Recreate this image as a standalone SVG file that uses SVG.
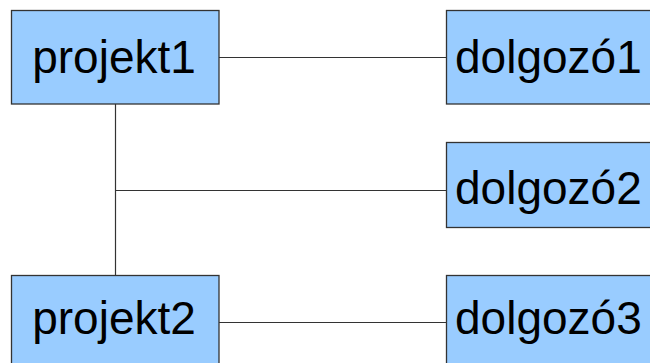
<svg xmlns="http://www.w3.org/2000/svg" width="650" height="363" viewBox="0 0 650 363">
  <style>
    .box { fill: #99ccff; stroke: #333333; stroke-width: 1.3; }
    .lbl { font-family: "Liberation Sans", Arial, sans-serif; font-size: 46px; fill: #000000; }
    .wire { stroke: #333333; stroke-width: 1.2; fill: none; }
  </style>
  <rect width="650" height="363" fill="#ffffff"/>
  <g id="connectors">
    <line class="wire" x1="219" y1="57.5" x2="446" y2="57.5"/>
    <line class="wire" x1="115.5" y1="104" x2="115.5" y2="275"/>
    <line class="wire" x1="115.5" y1="190.5" x2="446" y2="190.5"/>
    <line class="wire" x1="219" y1="322.5" x2="446" y2="322.5"/>
  </g>
  <g id="projekt1">
    <rect class="box" x="11.5" y="10.5" width="207.5" height="93.5"/>
    <text class="lbl" x="114" y="73" text-anchor="middle">projekt1</text>
  </g>
  <g id="projekt2">
    <rect class="box" x="11.5" y="275.5" width="207.5" height="100"/>
    <text class="lbl" x="114" y="334" text-anchor="middle">projekt2</text>
  </g>
  <g id="dolgozo1">
    <rect class="box" x="446.5" y="10.5" width="215" height="93.5"/>
    <text class="lbl" x="455" y="73">dolgozó1</text>
  </g>
  <g id="dolgozo2">
    <rect class="box" x="446.5" y="142.5" width="215" height="85"/>
    <text class="lbl" x="455" y="204">dolgozó2</text>
  </g>
  <g id="dolgozo3">
    <rect class="box" x="446.5" y="275.5" width="215" height="100"/>
    <text class="lbl" x="455" y="334">dolgozó3</text>
  </g>
</svg>
